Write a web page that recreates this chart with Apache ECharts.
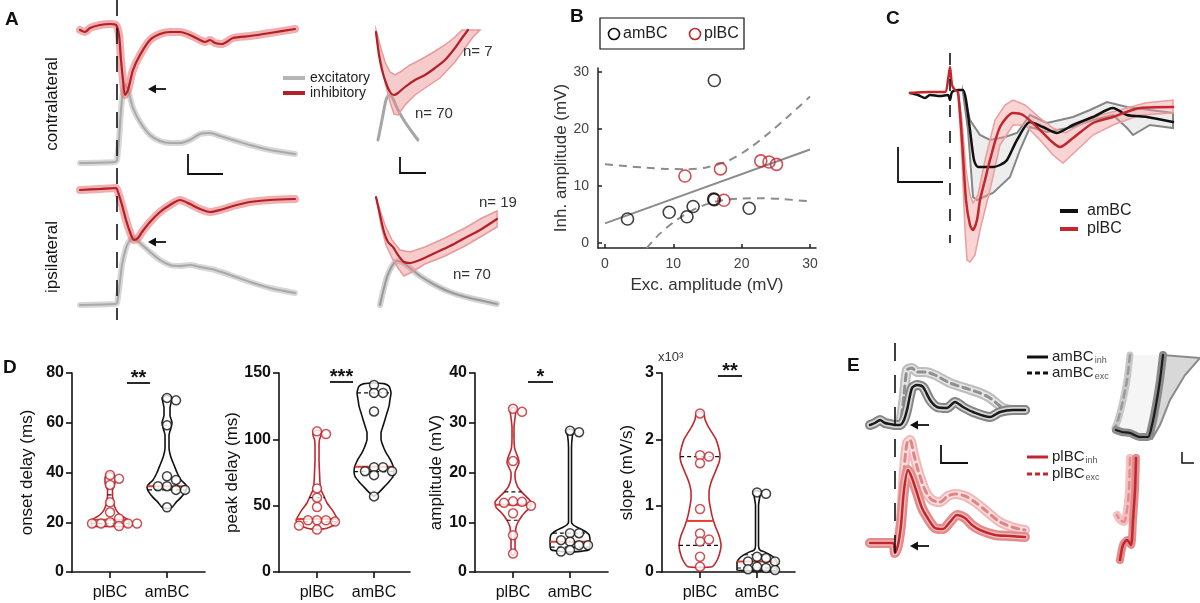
<!DOCTYPE html>
<html><head><meta charset="utf-8">
<script src="https://cdn.jsdelivr.net/npm/echarts@6/dist/echarts.min.js"></script>
<style>html,body{margin:0;padding:0;background:#fff}#c{width:1200px;height:603px}</style>
</head><body><div id="c"></div>
<script>
// ================= DATA =================
// Panel A: [time (ms from stimulus), amplitude (a.u.)]
const aContraInh = [[-37,140],[-32,138],[-27,142],[-17,145],[-7,146],[-1,145],[2,135],[4,110],[6,90],[8,75],[11,80],[16,100],[23,115],[33,130],[43,136],[53,138],[63,138],[73,135],[83,130],[88,128],[93,130],[98,127],[105,126],[116,132],[133,134],[153,137],[178,141]];
const aContraExc = [[-37,7],[-2,8],[0,10],[2,30],[4,60],[6,78],[8,85],[11,80],[16,62],[23,48],[33,35],[43,29],[53,27],[63,27],[73,30],[83,36],[93,37],[103,34],[116,30],[133,25],[153,20],[178,16]];
const aIpsiInh = [[-37,130],[-17,131],[-1,132],[1,128],[5,115],[9,100],[13,88],[17,80],[21,82],[25,88],[33,98],[43,108],[53,115],[63,120],[73,116],[83,111],[93,108],[103,110],[116,114],[133,118],[153,120],[178,121]];
const aIpsiExc = [[-37,15],[-2,16],[0,17],[2,30],[5,55],[9,72],[13,80],[17,82],[23,77],[33,68],[43,60],[53,55],[63,54],[73,55],[83,53],[98,50],[116,44],[133,38],[153,32],[178,27]];
// Panel A insets (expanded time)
const aZoomContraInh = [[6,118],[9,95],[12,80],[16,67],[20,58],[24,55],[28,57],[35,63],[45,70],[55,75],[65,82],[75,90],[85,102],[92,112],[98,120]];
const aZoomContraInhHi = [[6,120],[10,105],[15,88],[20,78],[25,75],[30,78],[40,85],[50,90],[62,97],[75,105],[85,113],[92,120]];
const aZoomContraInhLo = [[6,115],[10,95],[15,68],[20,48],[24,36],[28,35],[35,45],[45,55],[55,62],[70,72],[85,88],[95,102],[103,113],[110,120]];
const aZoomContraExc = [[8,10],[12,30],[16,50],[19,55],[22,53],[28,40],[35,28],[42,18],[48,10]];
const aZoomIpsiInh = [[6,113],[10,95],[14,78],[18,68],[23,63],[28,55],[34,48],[40,47],[50,50],[65,57],[80,64],[95,72],[110,80],[127,91]];
const aZoomIpsiInhHi = [[6,113],[10,100],[15,85],[22,70],[30,60],[40,58],[55,63],[75,72],[95,82],[112,92],[127,99]];
const aZoomIpsiInhLo = [[7,110],[11,85],[16,65],[22,52],[28,42],[34,34],[42,38],[55,46],[75,54],[95,64],[112,74],[127,83]];
const aZoomIpsiExc = [[10,5],[13,18],[17,33],[22,44],[27,49],[32,48],[40,42],[50,34],[65,25],[80,18],[100,12],[127,6]];
const aCounts = ['n= 7','n= 70','n= 19','n= 70'];

// Panel B: [exc amplitude, inh amplitude] (mV)
const bAmBC = [[3.3,4.2],[9.4,5.4],[12,4.6],[12.9,6.4],[15.9,7.7],[16,7.6],[16,28.5],[21.1,6.1]];
const bPlBC = [[11.7,11.75],[16.9,13],[17.4,7.5],[22.8,14.4],[24,14.2],[25.1,13.8]];
const bFit = [[0,3.45],[30,16.4]];
const bCiUpper = [[0,13.8],[3,13.5],[6,13.2],[9,13.0],[12,12.95],[15,13.3],[18,14.4],[21,16.5],[24,19.3],[27,22.4],[30,25.7]];
const bCiLower = [[6.1,-0.9],[8,1.6],[10,3.6],[12,5.2],[14,6.4],[16,7.2],[18,7.6],[20,7.8],[23,7.85],[26,7.7],[30,7.3]];
const bTicks = [0,10,20,30];

// Panel C: [time (ms), amplitude (a.u.)]
const cAmBC = [[-40,2],[-32,0],[-25,-3],[-20,0],[-10,-1],[-2,0],[0,-5],[2,3],[8,5],[13,5],[16,-5],[20,-35],[24,-65],[28,-72],[43,-72],[50,-70],[57,-65],[67,-45],[80,-27],[93,-32],[107,-38],[123,-30],[143,-22],[163,-13],[177,-20],[197,-22],[223,-27]];
const cAmBCHi = [[13,3],[20,-25],[30,-40],[40,-45],[55,-42],[67,-38],[80,-20],[97,-28],[110,-25],[123,-22],[140,-15],[157,-7],[177,-12],[200,-15],[223,-18]];
const cAmBCLo = [[13,2],[18,-35],[23,-102],[27,-105],[43,-98],[60,-82],[70,-55],[80,-32],[97,-37],[123,-32],[143,-25],[163,-20],[177,-33],[183,-40],[200,-30],[223,-33]];
const cPlBC = [[-40,2],[-20,3],[-5,3],[-2,15],[0,28],[2,10],[5,5],[8,3],[12,-45],[16,-105],[20,-130],[23,-135],[27,-125],[30,-105],[35,-85],[40,-65],[50,-32],[63,-18],[73,-20],[87,-32],[100,-45],[110,-52],[123,-43],[143,-28],[163,-22],[190,-13],[223,-12]];
const cPlBCHi = [[8,5],[12,-25],[16,-75],[20,-100],[23,-108],[28,-100],[35,-65],[45,-25],[55,-10],[63,-5],[75,-10],[90,-23],[103,-33],[115,-38],[130,-30],[150,-20],[170,-15],[195,-8],[223,-5]];
const cPlBCLo = [[8,2],[12,-65],[15,-135],[17,-165],[20,-167],[25,-160],[30,-135],[40,-95],[50,-50],[63,-30],[75,-30],[90,-45],[103,-60],[113,-68],[125,-57],[143,-40],[163,-30],[190,-20],[223,-18]];

// Panel D: individual cells
const dCategories = ['plBC','amBC'];
const onsetPl = [39,37.5,35,28,24,21.5,20,19.5,19.5,19.5,19.5,18.5];
const onsetAm = [70,69,59,38.5,37,34.5,34.5,33,33,26];
const peakPl = [106,104,63,56,49,39,39,39,38,35,32];
const peakAm = [141,135,135,121,79,79,76,76,73,57];
const ampPl = [32.8,32.2,22.3,14.2,14.1,13.9,13.3,11.8,7.4,3.7];
const ampAm = [28.4,28.1,7.8,7.8,6.4,6.1,5.4,5.4,4.4,4.1];
const slopePl = [2.39,1.76,1.74,1.64,0.95,0.58,0.49,0.46,0.23,0.08];
const slopeAm = [1.2,1.18,0.23,0.21,0.16,0.16,0.08,0.06,0.04,0.03];
// violin density profiles [value, density]
const onsetPlDens = [[18.3,18],[19,19],[20,19],[21,18],[22,14],[23,10],[25,6],[27,4],[29,3],[31,2.5],[33,2.5],[34.5,4],[36,5],[38,5],[39.5,3],[40,0]];
const onsetAmDens = [[25.5,0],[26,5],[28,9],[30,14],[32,18],[34,20],[35,19],[37,14],[40,10],[43,7],[46,4],[50,2],[55,2],[58,4],[60,5],[63,3],[66,3],[68,4],[70,5],[71,0]];
const peakPlDens = [[32,0],[33,10],[36,18],[39,21],[42,19],[47,15],[52,10],[57,7],[62,4],[67,3],[75,2.5],[85,2],[95,2],[100,2.5],[103,4],[105.5,4],[107,0]];
const peakAmDens = [[57,0],[60,5],[64,10],[68,15],[72,19],[76,20],[80,19],[85,16],[90,12],[95,9],[100,7],[105,7],[110,9],[115,11],[120,13],[125,15],[130,16],[135,17],[140,15],[142,10],[142.5,0]];
const ampPlDens = [[3.3,0],[3.7,2],[5,2],[7,2],[8,2.5],[9,3],[10,5],[11,8],[12,12],[13,17],[14,18],[15,14],[16,9],[17,5],[18,3],[19,2],[20,2],[21,4],[22,6],[23,5],[24,3],[25,1.5],[27,1],[29,1],[31,2],[32.5,3],[33.2,0]];
const ampAmDens = [[4,0],[4.2,12],[4.5,19],[6,20],[7.5,19],[8.3,14],[9,7],[9.5,3],[10,1.5],[15,1.5],[20,1.5],[25,1.5],[27.5,2.5],[28.3,4],[28.8,0]];
const slopePlDens = [[0.07,0],[0.08,12],[0.15,16],[0.25,19],[0.4,21],[0.55,19],[0.7,15],[0.85,12],[1.0,10],[1.1,9],[1.2,9],[1.35,11],[1.5,15],[1.65,19],[1.75,20],[1.85,19],[2.0,16],[2.1,12],[2.2,8],[2.3,5],[2.38,4],[2.43,0]];
const slopeAmDens = [[0.02,0],[0.025,20],[0.1,20],[0.15,20],[0.2,18],[0.25,14],[0.3,8],[0.33,3],[0.4,1.5],[0.7,1.5],[1.0,1.5],[1.15,3],[1.2,4],[1.23,0]];
// quartiles [Q1, median, Q3]
const onsetPlQ = [19.5,21,31], onsetAmQ = [33,34.5,59];
const peakPlQ = [38,40,56], peakAmQ = [75.6,79.4,135];
const ampPlQ = [10.4,13.5,16.1], ampAmQ = [5,6.1,7.8];
const slopePlQ = [0.4,0.77,1.74], slopeAmQ = [0.06,0.16,0.26];
const dTitles = ['onset delay (ms)','peak delay (ms)','amplitude (mV)','slope (mV/s)'];
const dMax = [80,150,40,3];
const dInterval = [20,50,10,1];
const dStars = ['**','***','*','**'];

// Panel E: [time (ms), amplitude (a.u.)]
const eAmInh = [[-25,0],[-20,2],[-15,5],[-10,2],[-5,1],[0,0],[5,0],[9,5],[12,15],[17,37],[22,40],[28,38],[35,25],[42,18],[52,17],[60,23],[68,18],[78,13],[95,8],[105,13],[118,15],[130,15]];
const eAmExc = [[0,0],[5,2],[9,30],[12,55],[17,57],[22,53],[30,53],[40,50],[55,42],[70,37],[85,32],[95,27],[108,17],[118,15],[130,15]];
const ePlInh = [[-25,2],[-15,2],[-2,2],[0,-8],[3,0],[6,20],[9,55],[13,75],[17,67],[22,52],[27,37],[32,28],[40,17],[48,16],[55,23],[62,30],[70,27],[77,20],[85,15],[100,10],[115,9],[130,8]];
const ePlExc = [[3,0],[6,25],[9,75],[12,102],[15,105],[19,90],[23,75],[30,55],[37,45],[45,43],[53,49],[60,51],[70,49],[80,43],[90,35],[105,23],[120,17],[130,15]];
const eZoomAmInh = [[53,85],[50,60],[46,35],[42,15],[38,3],[30,3],[20,7],[12,8],[6,10]];
const eZoomAmExc = [[20,85],[17,60],[12,35],[8,20],[5,12]];
const eZoomAmEdge = [[90,82],[75,65],[60,40],[50,15],[42,1]];
const eZoomPlInh = [[26,102],[25,70],[23,40],[21,15],[17,20],[13,15],[10,0]];
const eZoomPlExc = [[20,102],[19,70],[17,50],[14,38],[10,40],[7,45]];

// ================= BUILD =================
const FONT = '"Liberation Sans", Arial, sans-serif';
const RED = '#c1272d', MED = '#e2402f';
const option = {animation:false, textStyle:{fontFamily:FONT}, grid:[], xAxis:[], yAxis:[], series:[], graphic:[]};

function hidden(l,t,w,h,x0,x1,y0,y1){
  option.grid.push({left:l,top:t,width:w,height:h,outerBoundsMode:'none'});
  const gi = option.grid.length-1;
  option.xAxis.push({gridIndex:gi,type:'value',min:x0,max:x1,show:false});
  option.yAxis.push({gridIndex:gi,type:'value',min:y0,max:y1,show:false});
  return gi;
}
function tr(gi,data,color,width,z,dash){
  return {type:'line',xAxisIndex:gi,yAxisIndex:gi,data,symbol:'none',smooth:0.25,silent:true,z:z||3,
    lineStyle:{color,width,type:dash||'solid',cap:'round',join:'round'}};
}
function band(gi,upper,lower,fill,stroke,lw,z){
  const pts = upper.concat(lower.slice().reverse());
  return {type:'custom',xAxisIndex:gi,yAxisIndex:gi,data:[pts[0]],silent:true,z:z||1,clip:false,
    renderItem:(p,api)=>({type:'polygon',shape:{points:pts.map(q=>api.coord(q))},
      style:{fill,stroke:stroke||'none',lineWidth:lw||0}})};
}
const S = option.series;

// ---- Panel A ----
const gA1 = hidden(80,20,215,150,-37,178,0,150);
const gA2 = hidden(80,170,215,150,-37,178,0,150);
[[gA1,aContraExc,aContraInh],[gA2,aIpsiExc,aIpsiInh]].forEach(([g,ex,inh])=>{
  S.push(tr(g,ex,'rgba(205,205,205,0.8)',6,1));
  S.push(tr(g,ex,'#a9a9a9',2,2));
  S.push(tr(g,inh,'rgba(230,120,120,0.6)',8,2));
  S.push(tr(g,inh,'#b3202a',2.2,3));
});
const gA3 = hidden(370,20,130,130,0,130,0,130);
const gA4 = hidden(370,190,130,120,0,130,0,120);
S.push(tr(gA3,aZoomContraExc,'#a6a6a6',3,1));
S.push(band(gA3,aZoomContraInhHi,aZoomContraInhLo,'rgba(236,140,140,0.45)','#e89a9a',1.5,2));
S.push(tr(gA3,aZoomContraInh,'#b3202a',2.2,3));
S.push(tr(gA4,aZoomIpsiExc,'rgba(205,205,205,0.9)',6,1));
S.push(tr(gA4,aZoomIpsiExc,'#999',2,1));
S.push(band(gA4,aZoomIpsiInhHi,aZoomIpsiInhLo,'rgba(236,140,140,0.45)','#e89a9a',1.5,2));
S.push(tr(gA4,aZoomIpsiInh,'#b3202a',2.2,3));

// ---- Panel B ----
option.grid.push({left:598,top:68,width:218,height:180,outerBoundsMode:'none'});
const gB = option.grid.length-1;
const axB = {color:'#222',width:1.5};
option.xAxis.push({gridIndex:gB,type:'value',min:-1.02,max:30.88,
  axisLine:{show:true,onZero:false,lineStyle:axB},
  axisTick:{show:true,inside:true,length:4,customValues:bTicks,lineStyle:axB},
  axisLabel:{customValues:bTicks,fontSize:14,color:'#444',margin:9},splitLine:{show:false},
  name:'Exc. amplitude (mV)',nameLocation:'middle',nameGap:29,nameTextStyle:{fontSize:17,color:'#333'}});
option.yAxis.push({gridIndex:gB,type:'value',min:-0.88,max:30.7,
  axisLine:{show:true,onZero:false,lineStyle:axB},
  axisTick:{show:true,inside:true,length:4,customValues:bTicks,lineStyle:axB},
  axisLabel:{customValues:bTicks,fontSize:14,color:'#444',margin:9},splitLine:{show:false},
  name:'Inh. amplitude (mV)',nameLocation:'middle',nameGap:22,nameTextStyle:{fontSize:17,color:'#333'}});
S.push({type:'line',xAxisIndex:gB,yAxisIndex:gB,data:bCiUpper,symbol:'none',smooth:0.3,lineStyle:{color:'#8c8c8c',width:2,type:[8,6]},z:2});
S.push({type:'line',xAxisIndex:gB,yAxisIndex:gB,data:bCiLower,symbol:'none',smooth:0.3,lineStyle:{color:'#8c8c8c',width:2,type:[8,6]},z:2});
S.push({type:'line',xAxisIndex:gB,yAxisIndex:gB,data:bFit,symbol:'none',lineStyle:{color:'#8c8c8c',width:2},z:2});
S.push({type:'scatter',name:'amBC',xAxisIndex:gB,yAxisIndex:gB,data:bAmBC,symbol:'circle',symbolSize:12,itemStyle:{color:'rgba(255,255,255,0)',borderColor:'#111',borderWidth:1.6},z:4});
S.push({type:'scatter',name:'plBC',xAxisIndex:gB,yAxisIndex:gB,data:bPlBC,symbol:'circle',symbolSize:12,itemStyle:{color:'rgba(255,255,255,0)',borderColor:RED,borderWidth:1.6},z:4});

// ---- Panel C ----
const gC = hidden(905,40,275,230,-45,230,-175,55);
S.push(band(gC,cAmBCHi,cAmBCLo,'rgba(225,225,225,0.6)','#858585',2,1));
S.push(band(gC,cPlBCHi,cPlBCLo,'rgba(240,160,160,0.45)','#ec9d9d',1.5,2));
S.push(tr(gC,cAmBC,'#111',2.5,3));
S.push(tr(gC,cPlBC,RED,2.5,3));

// ---- Panel D ----
const dSets = [
  [onsetPl,onsetAm,onsetPlDens,onsetAmDens,onsetPlQ,onsetAmQ],
  [peakPl,peakAm,peakPlDens,peakAmDens,peakPlQ,peakAmQ],
  [ampPl,ampAm,ampPlDens,ampAmDens,ampPlQ,ampAmQ],
  [slopePl,slopeAm,slopePlDens,slopeAmDens,slopePlQ,slopeAmQ]];
const dLeft = [72,279,475,662], dWidth=[133,131,133,133], dGap=[36,38,30,26];
const PX = 57, DOT = 9;
function widthAt(dens,v){
  for(let i=1;i<dens.length;i++){ if(v<=dens[i][0]){const a=dens[i-1],b=dens[i];const t=(v-a[0])/(b[0]-a[0]||1);return a[1]+t*(b[1]-a[1]);} }
  return 0;
}
function swarm(vals,c,yPx){
  const placed=[],out=[],offs=[0,DOT,-DOT,2*DOT,-2*DOT,3*DOT,-3*DOT];
  vals.forEach(v=>{const y=v*yPx;let o=0;
    for(const cand of offs){ if(placed.every(p=>Math.hypot(p[0]-cand,p[1]-y)>=7)){o=cand;break;} }
    placed.push([o,y]); out.push([c+o/PX,v]);});
  return out;
}
dSets.forEach((set,i)=>{
  option.grid.push({left:dLeft[i],top:373,width:dWidth[i],height:199,outerBoundsMode:'none'});
  const g = option.grid.length-1;
  const ax = {color:'#111',width:1.6};
  option.xAxis.push({gridIndex:g,type:'value',min:-0.667,max:-0.667+dWidth[i]/PX,
    axisLine:{show:true,onZero:false,lineStyle:ax},
    axisTick:{show:true,length:6,customValues:[0,1],lineStyle:ax},
    axisLabel:{customValues:[0,1],formatter:v=>dCategories[Math.round(v)],fontSize:16,color:'#111',margin:13},
    splitLine:{show:false}});
  option.yAxis.push({gridIndex:g,type:'value',min:0,max:dMax[i],interval:dInterval[i],
    axisLine:{show:true,onZero:false,lineStyle:ax},axisTick:{show:true,length:6,lineStyle:ax},
    axisLabel:{fontSize:16,fontWeight:'bold',color:'#111',margin:8},splitLine:{show:false},
    name:dTitles[i],nameLocation:'middle',nameGap:dGap[i],nameTextStyle:{fontSize:17,color:'#111'}});
  const yPx = 199/dMax[i];
  [[set[0],set[2],set[4],0,RED],[set[1],set[3],set[5],1,'#111']].forEach(([vals,dens,q,c,col])=>{
    const left = dens.map(([v,w])=>[c-w/PX,v]);
    const right = dens.slice().reverse().map(([v,w])=>[c+w/PX,v]);
    const loop = left.concat(right); loop.push(left[0]);
    S.push({type:'line',xAxisIndex:g,yAxisIndex:g,data:loop,symbol:'none',smooth:0.2,silent:true,z:2,lineStyle:{color:col,width:1.6}});
    [q[0],q[2]].forEach(v=>{const w=widthAt(dens,v)/PX;
      S.push({type:'line',xAxisIndex:g,yAxisIndex:g,data:[[c-w,v],[c+w,v]],symbol:'none',silent:true,z:2,lineStyle:{color:'#111',width:1.2,type:[4,3]}});});
    const wm = widthAt(dens,q[1])/PX;
    S.push({type:'line',xAxisIndex:g,yAxisIndex:g,data:[[c-wm,q[1]],[c+wm,q[1]]],symbol:'none',silent:true,z:3,lineStyle:{color:MED,width:2}});
    S.push({type:'scatter',xAxisIndex:g,yAxisIndex:g,data:swarm(vals,c,yPx),symbol:'circle',symbolSize:DOT,silent:true,z:4,
      itemStyle:{color:'#fff',borderColor:col,borderWidth:1.5}});
  });
});

// ---- Panel E ----
const gE1 = hidden(865,340,170,100,-30,140,-15,85);
const gE2 = hidden(865,430,170,130,-30,140,-15,115);
S.push(tr(gE1,eAmExc,'#bdbdbd',10,1)); S.push(tr(gE1,eAmExc,'#e4e4e4',6,1)); S.push(tr(gE1,eAmExc,'#8f8f8f',3,1,[7,5]));
S.push(tr(gE1,eAmInh,'#858585',10,2)); S.push(tr(gE1,eAmInh,'#d6d6d6',6,2)); S.push(tr(gE1,eAmInh,'#1a1a1a',2.5,3));
S.push(tr(gE2,ePlExc,'#f2b8b8',10,1)); S.push(tr(gE2,ePlExc,'#fadede',6,1)); S.push(tr(gE2,ePlExc,'#e08585',3,1,[7,5]));
S.push(tr(gE2,ePlInh,'#e48b8b',10,2)); S.push(tr(gE2,ePlInh,'#f3c4c4',5,2)); S.push(tr(gE2,ePlInh,RED,2.5,3));
const gE3 = hidden(1110,350,90,90,0,90,0,90);
const gE4 = hidden(1110,450,90,110,0,90,0,110);
S.push(band(gE3,eZoomAmInh.slice(0,5),eZoomAmEdge,'rgba(200,200,200,0.7)','#8a8a8a',2,1));
S.push(band(gE3,eZoomAmExc,eZoomAmInh.slice(0,4).concat([[38,3],[20,7],[8,9]]),'rgba(238,238,238,0.6)',null,0,0));
S.push(tr(gE3,eZoomAmExc,'#c8c8c8',7,1)); S.push(tr(gE3,eZoomAmExc,'#9a9a9a',2.5,1,[7,5]));
S.push(tr(gE3,eZoomAmInh,'#8a8a8a',8,2)); S.push(tr(gE3,eZoomAmInh,'#1a1a1a',2.2,3));
S.push(tr(gE4,eZoomPlExc,'#f4c0c0',8,1)); S.push(tr(gE4,eZoomPlExc,'#e38d8d',2.5,1,[7,5]));
S.push(tr(gE4,eZoomPlInh,'#e48b8b',8,2)); S.push(tr(gE4,eZoomPlInh,RED,2.5,3));

// ================= ANNOTATIONS =================
const G = option.graphic;
function txt(x,y,s,size,opts){opts=opts||{};
  G.push({type:'text',x,y,rotation:opts.rot||0,z:10,style:{text:s,fill:opts.fill||'#111',font:(opts.bold?'bold ':'')+size+'px '+FONT,
    textAlign:opts.align||'left',textVerticalAlign:opts.va||'middle',align:opts.align||'left',verticalAlign:opts.va||'middle'}});}
function seg(x1,y1,x2,y2,col,w,dash){G.push({type:'line',z:10,shape:{x1,y1,x2,y2},style:{stroke:col||'#111',lineWidth:w||1.5,lineDash:dash||null}});}
function poly(pts,w){G.push({type:'polyline',z:10,shape:{points:pts},style:{stroke:'#111',lineWidth:w||1.8,fill:null}});}
function arrow(xh,xt,y){seg(xh+4,y,xt,y,'#111',1.8);G.push({type:'polygon',z:10,shape:{points:[[xh,y],[xh+8,y-4.5],[xh+8,y+4.5]]},style:{fill:'#111'}});}
function sub(x,y,main,s){G.push({type:'text',x,y,z:10,style:{text:'{n|'+main+'}{s|'+s+'}',font:'15px '+FONT,fill:'#222',
  textVerticalAlign:'middle',verticalAlign:'middle',
  rich:{n:{fontSize:15,lineHeight:15,verticalAlign:'top',fill:'#222',fontFamily:FONT},s:{fontSize:9,lineHeight:9,padding:[8,0,0,1],fill:'#555',fontFamily:FONT}}}});}

// panel letters
txt(5,20,'A',19,{bold:true}); txt(570,17,'B',19,{bold:true}); txt(886,19,'C',19,{bold:true});
txt(3,368,'D',19,{bold:true}); txt(847,366,'E',19,{bold:true});
// A
seg(117,0,117,320,'#111',1.6,[16,12]);
txt(52,104,'contralateral',17,{rot:Math.PI/2,align:'center'});
txt(52,257,'ipsilateral',17,{rot:Math.PI/2,align:'center'});
arrow(148,166,89); arrow(148,166,242);
poly([[188,154],[188,174],[223,174]]); poly([[400,157],[400,173],[426,173]]);
seg(283,78,305,78,'#b5b5b5',4); seg(283,93,305,93,'#b3202a',4);
txt(310,78,'excitatory',14,{fill:'#222'}); txt(310,93,'inhibitory',14,{fill:'#222'});
txt(463,52,aCounts[0],15,{fill:'#333'}); txt(415,114,aCounts[1],15,{fill:'#333'});
txt(479,203,aCounts[2],15,{fill:'#333'}); txt(453,275,aCounts[3],15,{fill:'#333'});
// B legend
G.push({type:'rect',z:10,shape:{x:600,y:18,width:144,height:31},style:{stroke:'#111',lineWidth:1.2,fill:'#fff'}});
G.push({type:'circle',z:11,shape:{cx:614,cy:34,r:5.5},style:{stroke:'#111',lineWidth:1.6,fill:'none'}});
txt(623,34,'amBC',16,{fill:'#222'});
G.push({type:'circle',z:11,shape:{cx:695,cy:34,r:5.5},style:{stroke:RED,lineWidth:1.6,fill:'none'}});
txt(704,34,'plBC',16,{fill:'#222'});
// C
seg(950,53,950,243,'#111',1.6,[12,14]);
poly([[898,147],[898,182],[943,182]]);
seg(1060,211,1078,211,'#111',4); seg(1060,229,1078,229,RED,4);
txt(1087,211,'amBC',16,{fill:'#222'}); txt(1087,229,'plBC',16,{fill:'#222'});
// D
[[127,150,383],[330,353,382],[528,553,382],[718,742,376]].forEach(([a,b,y],k)=>{
  seg(a,y,b,y,'#111',1.8); txt((a+b)/2,y-15,dStars[k],20,{bold:true,align:'center',va:'top'});});
txt(658,357,'x10³',13,{fill:'#333'});
// E
seg(895,343,895,560,'#111',1.6,[18,14]);
arrow(910,929,425); arrow(910,929,546);
poly([[941,445],[941,463],[968,463]]); poly([[1182,452],[1182,463],[1194,463]],1.5);
seg(1027,357,1048,357,'#111',3); seg(1027,373,1048,373,'#111',3,[5,3]);
seg(1027,457,1048,457,RED,3); seg(1027,474,1048,474,RED,3,[5,3]);
sub(1052,357,'amBC','inh'); sub(1052,373,'amBC','exc');
sub(1052,457,'plBC','inh'); sub(1052,474,'plBC','exc');

const chart = echarts.init(document.getElementById('c'),null,{renderer:'canvas'});
chart.setOption(option);
</script>
</body></html>
